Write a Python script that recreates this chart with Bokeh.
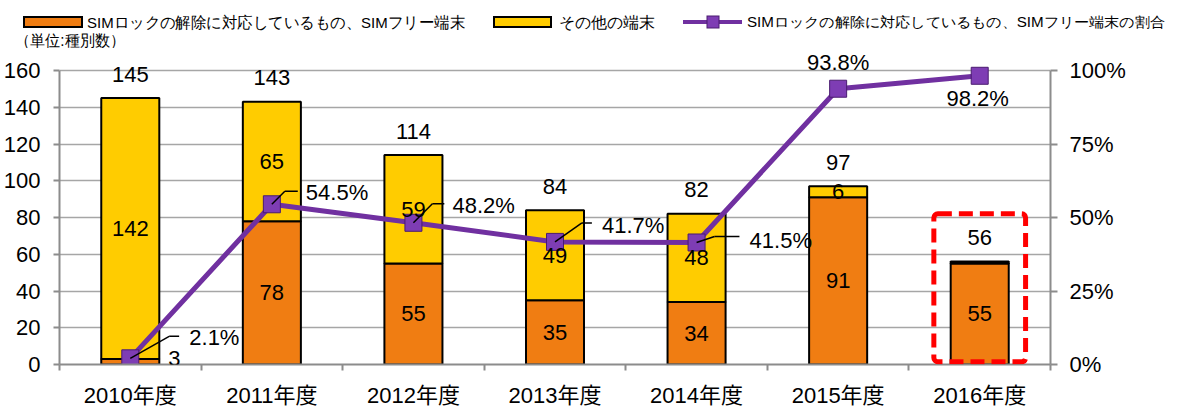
from bokeh.plotting import figure
from bokeh.layouts import column
from bokeh.models import (ColumnDataSource, Range1d, LinearAxis, FixedTicker,
                          NumeralTickFormatter, LabelSet, BoxAnnotation, Div)
from bokeh.core.properties import value
from bokeh.embed import file_html
from bokeh.resources import INLINE

# ---------------- data ----------------
categories = ["2010年度", "2011年度", "2012年度", "2013年度", "2014年度", "2015年度", "2016年度"]
sim_free = [3, 78, 55, 35, 34, 91, 55]          # SIMロック解除対応・SIMフリー端末
other = [142, 65, 59, 49, 48, 6, 1]             # その他の端末
totals = [145, 143, 114, 84, 82, 97, 56]
ratio_pct = [2.1, 54.5, 48.2, 41.7, 41.5, 93.8, 98.2]
y_ticks = [0, 20, 40, 60, 80, 100, 120, 140, 160]
pct_ticks = [0, 0.25, 0.5, 0.75, 1.0]
legend_labels = ["SIMロックの解除に対応しているもの、SIMフリー端末",
                 "その他の端末",
                 "SIMロックの解除に対応しているもの、SIMフリー端末の割合"]
unit_label = "（単位:種別数）"
highlight = "2016年度"

# ---------------- style ----------------
ORANGE = "#F07D12"
YELLOW = "#FFCC00"
PURPLE = "#7030A0"
MARK_FILL = "#7E3DB4"
MARK_LINE = "#4A1C70"
GRAY = "#8C8C8C"
NUM_FONT = "Liberation Sans, Noto Sans CJK JP"
JP_FONT = "Noto Sans CJK JP"
FS = "22px"

W = 1180
TOP_H = 48
MAIN_H = 414 - TOP_H

# ================= header strip: legend + unit (inline SVG) =================
LY = 22
TXT = (f'dominant-baseline="central" font-family="{JP_FONT}" fill="black" '
       f'lengthAdjust="spacingAndGlyphs"')
hdr = f"""
<svg xmlns="http://www.w3.org/2000/svg" width="{W}" height="{TOP_H}" style="display:block">
  <rect x="24" y="{LY-5}" width="58" height="10" fill="{ORANGE}" stroke="black" stroke-width="2"/>
  <text x="87" y="{LY}" font-size="15.5px" textLength="378" {TXT}>{legend_labels[0]}</text>
  <rect x="494" y="{LY-5}" width="57" height="10" fill="{YELLOW}" stroke="black" stroke-width="2"/>
  <text x="559" y="{LY}" font-size="15.5px" textLength="96" {TXT}>{legend_labels[1]}</text>
  <line x1="683" y1="{LY}" x2="742" y2="{LY}" stroke="{PURPLE}" stroke-width="4"/>
  <rect x="707" y="{LY-6}" width="12" height="12" fill="{MARK_FILL}" stroke="{MARK_LINE}" stroke-width="1"/>
  <text x="747" y="{LY}" font-size="14px" textLength="418" {TXT}>{legend_labels[2]}</text>
  <text x="15" y="{TOP_H-8}" font-size="16px" textLength="110" {TXT}>{unit_label}</text>
</svg>
"""
header = Div(text=hdr, width=W, height=TOP_H, margin=(0, 0, 0, 0))

# ================= main chart =================
BL, BR, BB = 56, 130, 50
FW, FH = W - BL - BR, MAIN_H - BB
PAD = 70 - TOP_H               # px between frame top and the 160 line
N = len(categories)
Y_MAX = y_ticks[-1]
y_end = Y_MAX * FH / (FH - PAD)
p_end = pct_ticks[-1] * FH / (FH - PAD)
PX_X = N / FW
PX_P = pct_ticks[-1] / (FH - PAD)

xs = [i + 0.5 for i in range(N)]
ratio = [r / 100.0 for r in ratio_pct]

p = figure(width=W, height=MAIN_H, x_range=Range1d(0, N), y_range=Range1d(0, y_end),
           output_backend="svg", toolbar_location=None,
           min_border_left=BL, min_border_right=BR, min_border_top=0, min_border_bottom=BB)
p.extra_y_ranges = {"pct": Range1d(0, p_end)}
p.outline_line_color = None

# grid
p.xgrid.visible = False
p.ygrid.ticker = FixedTicker(ticks=y_ticks)
p.ygrid.grid_line_color = "#A6A6A6"
p.ygrid.grid_line_width = 1.5

# left axis
ya = p.yaxis[0]
ya.ticker = FixedTicker(ticks=y_ticks)
ya.bounds = (0, Y_MAX)
ya.axis_line_color = GRAY
ya.axis_line_width = 2
ya.major_tick_line_color = GRAY
ya.major_tick_line_width = 2
ya.major_tick_out = 6
ya.major_tick_in = 0
ya.minor_tick_line_color = None
ya.major_label_standoff = 13
ya.major_label_text_font = NUM_FONT
ya.major_label_text_font_size = FS
ya.major_label_text_color = "black"

# bottom axis: labels at category centres, tick marks between categories
xa = p.xaxis[0]
xa.ticker = FixedTicker(ticks=xs, minor_ticks=list(range(N + 1)))
xa.major_label_overrides = {x: c for x, c in zip(xs, categories)}
xa.axis_line_color = GRAY
xa.axis_line_width = 2
xa.major_tick_line_color = None
xa.major_tick_out = 0
xa.major_tick_in = 0
xa.minor_tick_line_color = GRAY
xa.minor_tick_line_width = 2
xa.minor_tick_out = 6
xa.minor_tick_in = 0
xa.major_label_standoff = 12
xa.major_label_text_font = NUM_FONT
xa.major_label_text_font_size = FS
xa.major_label_text_color = "black"

# right axis
ra = LinearAxis(y_range_name="pct", ticker=FixedTicker(ticks=pct_ticks),
                formatter=NumeralTickFormatter(format="0%"), bounds=(0, pct_ticks[-1]))
ra.axis_line_color = GRAY
ra.axis_line_width = 2
ra.major_tick_line_color = GRAY
ra.major_tick_line_width = 2
ra.major_tick_out = 7
ra.major_tick_in = 0
ra.minor_tick_line_color = None
ra.major_label_standoff = 12
ra.major_label_text_font = NUM_FONT
ra.major_label_text_font_size = FS
ra.major_label_text_color = "black"
p.add_layout(ra, "right")

# ---------------- bars ----------------
src = ColumnDataSource(dict(x=xs, sim=sim_free, tot=[s + o for s, o in zip(sim_free, other)],
                            ratio=ratio))
BW = 0.41
p.vbar(x="x", width=BW, bottom=0, top="sim", source=src,
       fill_color=ORANGE, line_color="black", line_width=2)
p.vbar(x="x", width=BW, bottom="sim", top="tot", source=src,
       fill_color=YELLOW, line_color="black", line_width=2)

# ---------------- ratio line ----------------
p.line("x", "ratio", source=src, y_range_name="pct", line_color=PURPLE, line_width=5)
p.scatter("x", "ratio", source=src, y_range_name="pct", marker="square", size=17,
          fill_color=MARK_FILL, line_color=MARK_LINE, line_width=1)

# leader lines (dx1, dy_up, dx2 in px) for labels set beside the markers
leaders = [(39, 22, 49), (13, 13, 26), (19, 19, 31), (27, 19, 37), (18, 6, 43), None, None]
lx0, ly0, lx1, ly1 = [], [], [], []
for x, r, ld in zip(xs, ratio, leaders):
    if ld is None:
        continue
    dx1, dy, dx2 = ld
    xa1, ya1 = x + dx1 * PX_X, r + dy * PX_P
    xa2 = x + dx2 * PX_X
    lx0 += [x, xa1]; ly0 += [r, ya1]; lx1 += [xa1, xa2]; ly1 += [ya1, ya1]
p.segment(lx0, ly0, lx1, ly1, y_range_name="pct", line_color="black", line_width=1.5)

# ---------------- labels ----------------
def labels(d, **kw):
    p.add_layout(LabelSet(source=ColumnDataSource(d), x="x", y="y", text="t",
                          text_baseline="middle", text_font=value(NUM_FONT),
                          text_color="black", **kw))

labels(dict(x=xs, y=totals, t=[str(v) for v in totals]),
       y_offset=24, text_align="center", text_font_size=FS)

ye = dict(x=[], y=[], t=[])
for x, s, o in zip(xs, sim_free, other):
    if o >= 2:
        ye["x"].append(x); ye["y"].append(s + o / 2); ye["t"].append(str(o))
labels(ye, text_align="center", text_font_size=FS)

inside = dict(x=[], y=[], t=[])
outside = dict(x=[], y=[], t=[])
for x, s in zip(xs, sim_free):
    if s < 10:      # too small to hold its label: set beside the bar
        outside["x"].append(x); outside["y"].append(s); outside["t"].append(str(s))
    else:
        inside["x"].append(x); inside["y"].append(s / 2); inside["t"].append(str(s))
labels(inside, text_align="center", text_font_size=FS)
labels(outside, x_offset=38, text_align="left", text_font_size=FS)

pct_dx = [59, 34, 39, 47, 53, 0, -2]
pct_dy = [21, 12, 17, 16, 2, 26, -23]
left_d = dict(x=[], y=[], t=[], dx=[], dy=[])
cent_d = dict(x=[], y=[], t=[], dx=[], dy=[])
for x, r, rp, ld, dx, dy in zip(xs, ratio, ratio_pct, leaders, pct_dx, pct_dy):
    d = left_d if ld is not None else cent_d
    d["x"].append(x); d["y"].append(r); d["t"].append(f"{rp:.1f}%")
    d["dx"].append(dx); d["dy"].append(dy)
labels(left_d, x_offset="dx", y_offset="dy", y_range_name="pct", text_align="left", text_font_size=FS)
labels(cent_d, x_offset="dx", y_offset="dy", y_range_name="pct", text_align="center", text_font_size=FS)

# highlight box around 2016
hi = categories.index(highlight) + 0.5
p.add_layout(BoxAnnotation(left=hi - 0.324, right=hi + 0.324, top=82, bottom=1.5,
                           fill_alpha=0, line_color="#FF0000", line_alpha=1, line_width=5,
                           line_dash="14 7", border_radius=4))

layout = column(header, p)
open("out.html", "w", encoding="utf-8").write(file_html(layout, INLINE))
